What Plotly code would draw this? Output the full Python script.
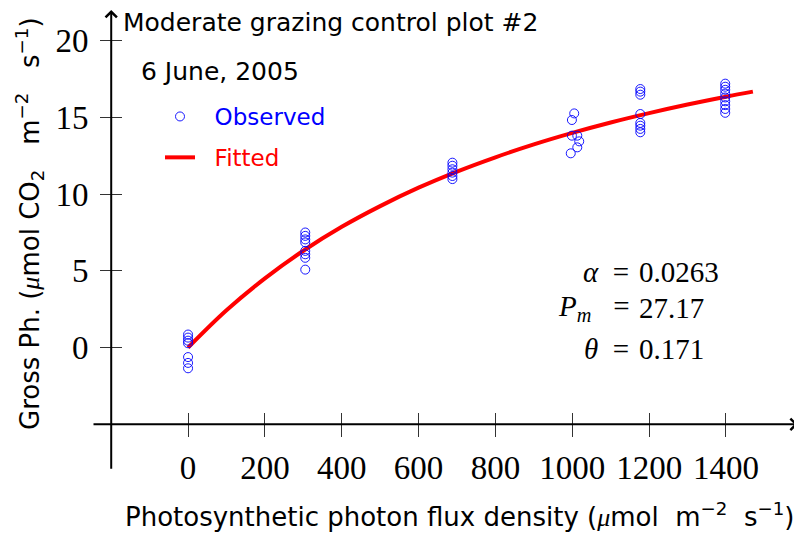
import plotly.graph_objects as go

# ---------------- data ----------------
ppfd_obs = [0, 0, 0, 0, 0, 0, 0,
            305, 305, 305, 305, 305, 305, 305, 305,
            688, 688, 688, 688, 688, 688,
            1005, 999, 999, 1013, 1018, 1013, 996,
            1177, 1177, 1177, 1177, 1177, 1177, 1177, 1177,
            1398, 1398, 1398, 1398, 1398, 1398, 1398, 1398, 1398]
gpp_obs = [0.85, 0.65, 0.45, 0.28, -0.62, -1.0, -1.35,
           7.5, 7.28, 7.05, 6.85, 6.3, 6.08, 5.85, 5.08,
           12.05, 11.85, 11.62, 11.4, 11.18, 10.98,
           15.26, 14.83, 13.81, 13.81, 13.44, 13.05, 12.66,
           16.85, 16.68, 16.48, 15.22, 14.64, 14.46, 14.25, 14.03,
           17.2, 17.0, 16.8, 16.55, 16.3, 16.05, 15.8, 15.55, 15.3]

ppfd_fit = [0, 100, 200, 300, 400, 500, 600, 700, 800, 900, 1000,
            1100, 1200, 1300, 1400, 1470]
gpp_fit = [0.0, 2.43, 4.51, 6.31, 7.87, 9.22, 10.42, 11.47, 12.40, 13.24,
           13.99, 14.67, 15.28, 15.84, 16.35, 16.68]

x_ticks = [0, 200, 400, 600, 800, 1000, 1200, 1400]
y_ticks = [0, 5, 10, 15, 20]

title_line1 = "Moderate grazing control plot #2"
title_line2 = "6 June, 2005"
NB = "\u00a0"
param_names = ["<i>α</i>" + NB * 2 + "=", "<i>P<sub>m</sub></i>" + NB * 3 + "=", "<i>θ</i>" + NB * 2 + "="]
param_values = ["0.0263", "27.17", "0.171"]

# ---------------- layout geometry ----------------
# the page body adds an 8px margin, so the figure is drawn 8px in from the window corner
OFF = 8
W, H = 802 - OFF, 533 - OFF
L, R, T, B = 84, 3, 2, 55
XR = [-250, 1590]
YR = [-8.5, 22.0]
PW = W - L - R
PH = H - T - B

def px_to_paper_x(px):  # px: window pixel
    return (px - OFF - L) / PW

def px_to_paper_y(py):
    return 1 - (py - OFF - T) / PH

SERIF = "Liberation Serif"
SANS = "DejaVu Sans"
MU = '<span style="font-family:Liberation Serif;font-style:italic">μ</span>'

fig = go.Figure()

fig.add_trace(go.Scatter(
    x=ppfd_fit, y=gpp_fit, mode="lines", line=dict(color="#ff0000", width=4, shape="spline"),
    name='<span style="color:#ff0000">' + NB * 2 + 'Fitted</span>', legendgroup="b", legendrank=2))
fig.add_trace(go.Scatter(
    x=ppfd_obs, y=gpp_obs, mode="markers",
    marker=dict(symbol="circle-open", size=9, color="#0000ff", line=dict(width=0.9, color="#0000ff")),
    name='<span style="color:#0000ff">' + NB * 2 + 'Observed</span>', legendgroup="a", legendrank=1))

# axes: ticks crossing the axis lines (axis placed at tick end, ticks drawn across)
x_axis_val = -5
y_axis_val = -200
tick_half = 12
xpos = (x_axis_val - YR[0]) / (YR[1] - YR[0]) + tick_half / PH
ypos = (y_axis_val - XR[0]) / (XR[1] - XR[0]) + 11 / PW

fig.update_layout(
    width=W, height=H,
    margin=dict(l=L, r=R, t=T, b=B, autoexpand=False),
    plot_bgcolor="white", paper_bgcolor="white",
    showlegend=True,
    legend=dict(x=px_to_paper_x(160), y=px_to_paper_y(95), xanchor="left", yanchor="top",
                font=dict(family=SANS, size=23), bgcolor="rgba(0,0,0,0)",
                tracegroupgap=8, traceorder="grouped", itemwidth=30),
    xaxis=dict(range=XR, anchor="free", position=xpos, showgrid=False, zeroline=False,
               showline=False, ticks="outside", ticklen=2 * tick_half, tickwidth=1,
               tickcolor="#333", tickvals=x_ticks, ticklabelstandoff=2, automargin=False,
               tickfont=dict(family=SERIF, size=33, color="black")),
    yaxis=dict(range=YR, anchor="free", position=ypos, showgrid=False, zeroline=False,
               showline=False, ticks="outside", ticklen=22, tickwidth=1,
               tickcolor="#333", tickvals=y_ticks, ticklabelstandoff=5, automargin=False,
               tickfont=dict(family=SERIF, size=33, color="black")),
)

ann = []
# axis lines with arrow heads
ann.append(dict(x=y_axis_val, y=22, ax=y_axis_val, ay=-8, xref="x", yref="y", axref="x", ayref="y",
                text="", showarrow=True, arrowhead=4, arrowsize=1.1, arrowwidth=2, arrowcolor="black",
                standoff=0, startstandoff=0))
ann.append(dict(x=1587, y=x_axis_val, ax=-250, ay=x_axis_val, xref="x", yref="y", axref="x", ayref="y",
                text="", showarrow=True, arrowhead=4, arrowsize=1.1, arrowwidth=2, arrowcolor="black",
                standoff=0, startstandoff=0))
# titles
ann.append(dict(x=px_to_paper_x(121), y=px_to_paper_y(22), xref="paper", yref="paper",
                text=title_line1, showarrow=False, xanchor="left", yanchor="middle",
                font=dict(family=SANS, size=25, color="black")))
ann.append(dict(x=px_to_paper_x(139), y=px_to_paper_y(72), xref="paper", yref="paper",
                text=title_line2, showarrow=False, xanchor="left", yanchor="middle",
                font=dict(family=SANS, size=25, color="black")))
# axis titles
ann.append(dict(x=px_to_paper_x(459), y=px_to_paper_y(515), xref="paper", yref="paper",
                text="Photosynthetic photon flux density (" + MU + "mol" + NB * 2 + "m<sup>−2</sup>"
                     + NB * 2 + "s<sup>−1</sup>)",
                showarrow=False, xanchor="center", yanchor="middle",
                font=dict(family=SANS, size=26, color="black")))
ann.append(dict(x=px_to_paper_x(30), y=px_to_paper_y(224), xref="paper", yref="paper",
                text="Gross Ph. (" + MU + "mol CO<sub>2</sub>" + NB * 3 + "m<sup>−2</sup>"
                     + NB * 3 + "s<sup>−1</sup>)",
                showarrow=False, xanchor="center", yanchor="middle", textangle=-90,
                font=dict(family=SANS, size=26, color="black")))
# fitted parameters
rows_y = [272, 308, 349]
for name, val, py in zip(param_names, param_values, rows_y):
    ann.append(dict(x=px_to_paper_x(631), y=px_to_paper_y(py), xref="paper", yref="paper",
                    text=name, showarrow=False, xanchor="right", yanchor="middle",
                    font=dict(family=SERIF, size=29, color="black")))
    ann.append(dict(x=px_to_paper_x(637), y=px_to_paper_y(py), xref="paper", yref="paper",
                    text=val, showarrow=False, xanchor="left", yanchor="middle",
                    font=dict(family=SERIF, size=29, color="black")))

fig.update_layout(annotations=ann)
fig.write_html("out.html")
